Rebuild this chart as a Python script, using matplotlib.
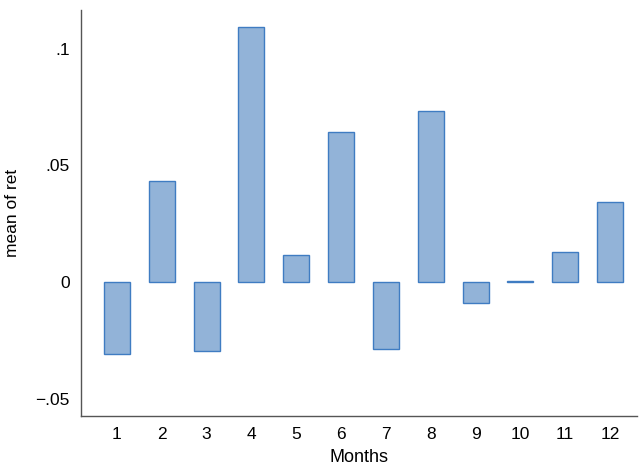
import matplotlib.pyplot as plt
import numpy as np

plt.rcParams['font.family'] = ['Liberation Sans', 'DejaVu Sans']

months = np.arange(1, 13)
mean_ret = [-0.0309, 0.0433, -0.0296, 0.1094, 0.0116, 0.0644,
            -0.0288, 0.0734, -0.0088, 0.0005, 0.0129, 0.0343]
yticks = [-0.05, 0, 0.05, 0.1]
ytick_labels = ['\u2212.05', '0', '.05', '.1']

fig = plt.figure(figsize=(6.39, 4.65), dpi=100)
ax = fig.add_axes([0.1268, 0.1054, 0.87, 0.873])

ax.bar(months, mean_ret, width=0.58, color='#92b3d8', edgecolor='#3f7cc2', linewidth=1)

ax.set_xlim(0.2, 12.6)
ax.set_ylim(-0.0575, 0.1167)
ax.set_xticks(months)
ax.set_yticks(yticks)
ax.set_yticklabels(ytick_labels)
ax.tick_params(length=0, labelsize=12.5, pad=8)

for side in ['top', 'right']:
    ax.spines[side].set_visible(False)
for side in ['left', 'bottom']:
    ax.spines[side].set_color('#555555')
    ax.spines[side].set_linewidth(1)

ax.set_xlabel('Months', fontsize=13, labelpad=5)
ax.set_ylabel('mean of ret', fontsize=12.5, labelpad=11)

fig.savefig('out.png', dpi=100)
